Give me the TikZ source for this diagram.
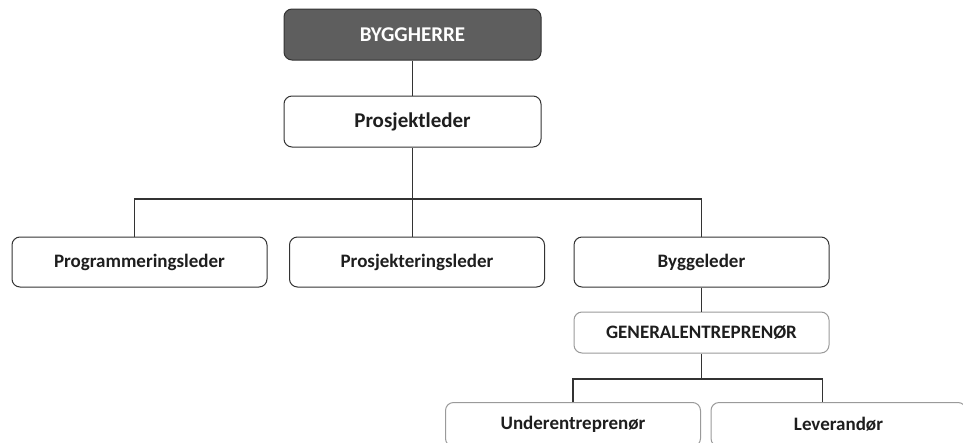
\documentclass[tikz,border=0pt]{standalone}
\usepackage{fontspec}
\setmainfont{Carlito}
\usepackage{xcolor}
\usetikzlibrary{positioning,calc}

\definecolor{darkbox}{HTML}{5E5E5E}
\definecolor{edgedark}{HTML}{333333}
\definecolor{edgelight}{HTML}{9A9A9A}
\definecolor{textdark}{HTML}{1E1E1E}

\begin{document}
\begin{tikzpicture}[x=1pt,y=-1pt,
  box/.style={draw=edgedark,line width=1pt,rounded corners=8pt,fill=white,
    minimum width=255pt,minimum height=50pt,text=textdark,
    font=\bfseries\fontsize{19}{22}\selectfont},
  topbox/.style={box,minimum width=257pt,minimum height=51pt,
    font=\bfseries\fontsize{21}{24}\selectfont},
  lightbox/.style={box,draw=edgelight,minimum height=41pt},
  link/.style={draw=edgedark,line width=1.1pt}]
\useasboundingbox (0,0) rectangle (963,442);
\clip (0,0) rectangle (963,442);
% Organisasjonskart
\node[topbox,fill=darkbox,text=white] (bh) at (412.5,34.5) {BYGGHERRE};
\node[topbox,below=35pt of bh] (pl) {Prosjektleder};

\node[box] (prog) at (139.5,262) {Programmeringsleder};
\node[box] (pe) at (417,262) {Prosjekteringsleder};
\node[box] (bl) at (701.5,262) {Byggeleder};
\node[lightbox,below=24pt of bl] (ge) {GENERALENTREPRENØR};
\node[lightbox,minimum height=44pt] (ue) at (573,424.5) {Underentreprenør};
\node[lightbox,minimum height=44pt] (lev) at (838.5,424.5) {Leverandør};

\coordinate (bus1) at (0,199);
\coordinate (bus2) at (0,379);

\draw[link] (bh) -- (pl);
\draw[link] (pl.south) -- (pl.south |- pe.north);
\draw[link] ([xshift=-5pt]prog.north) |- (bl.north |- bus1) -- (bl.north);
\draw[link] (bl) -- (ge);
\draw[link] (ge.south) -- (ge.south |- bus2);
\draw[link] (ue.north) |- ([xshift=-16pt]lev.north |- bus2) -- ([xshift=-16pt]lev.north);
\end{tikzpicture}
\end{document}
